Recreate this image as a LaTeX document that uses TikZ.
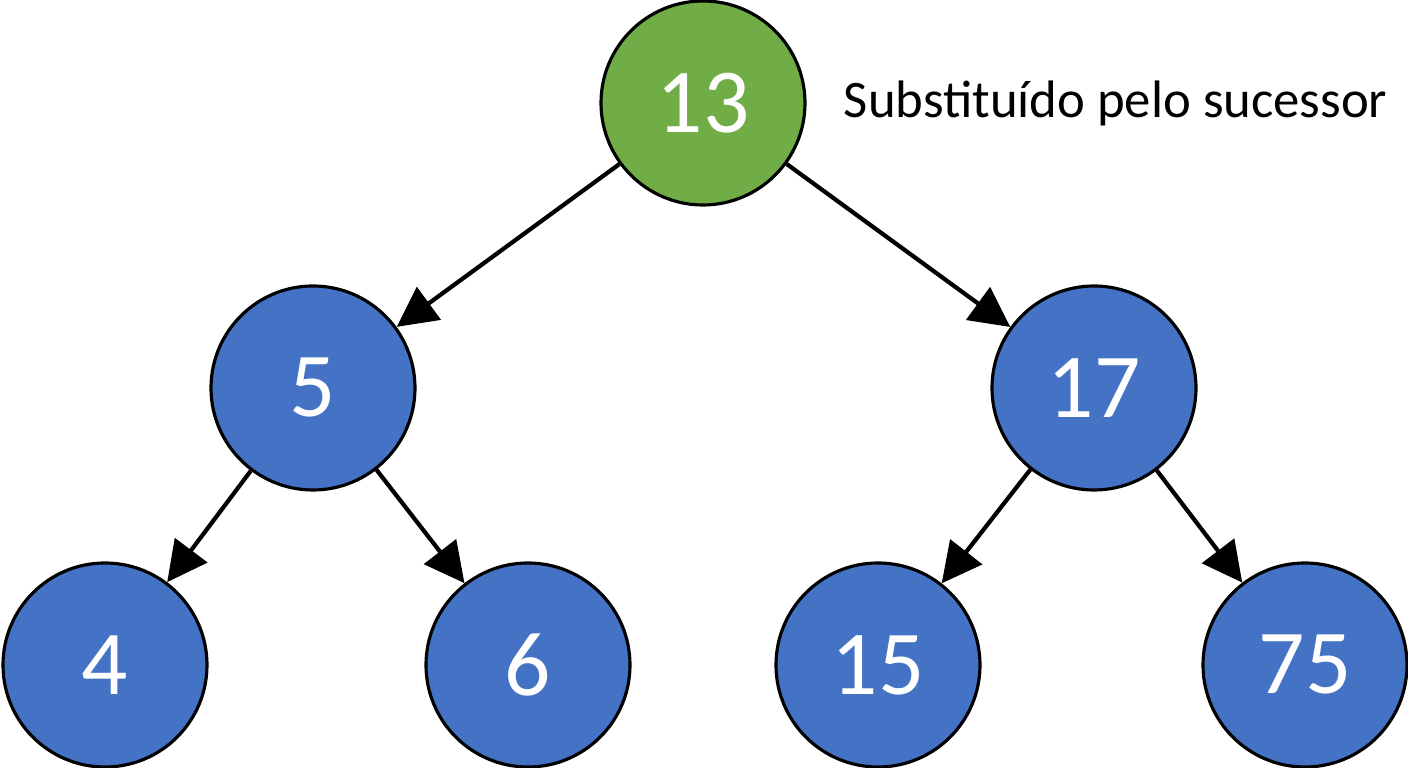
\documentclass[tikz,border=0pt]{standalone}
\usepackage{fontspec}
\setmainfont{Carlito}
\usetikzlibrary{arrows.meta}
\definecolor{nodeblue}{HTML}{4472C4}
\definecolor{nodegreen}{HTML}{70AD47}
\begin{document}
\begin{tikzpicture}[-{Triangle[length=0.4cm,width=0.4cm]},line width=1.2pt,main node/.style={circle,draw,line width=0.9pt,fill=nodeblue,text=white,minimum size=2.04cm,inner sep=0pt,font=\fontsize{26}{30}\selectfont}]
		\useasboundingbox (0,0) rectangle (14.08,7.68);
		\node[main node,fill=nodegreen] (13) at (7.03,6.65) {13};
		\node[main node] (5) at (3.13,3.80) {5};
		\node[main node] (17) at (10.94,3.80) {17};
		\node[main node] (4) at (1.05,1.03) {4};
		\node[main node] (6) at (5.28,1.03) {6};
		\node[main node] (15) at (8.78,1.03) {15};
		\node[main node] (75) at (13.05,1.03) {75};
		\node[anchor=west,font=\fontsize{15}{18}\selectfont] (lbl) at (8.3,6.65) {Substituído pelo sucessor};
		
		\path
		    (13) edge (5)
		    (13) edge (17)
		    (5) edge (4)
		    (5) edge (6)
		    (17) edge (15)
		    (17) edge (75);
\end{tikzpicture}
\end{document}
